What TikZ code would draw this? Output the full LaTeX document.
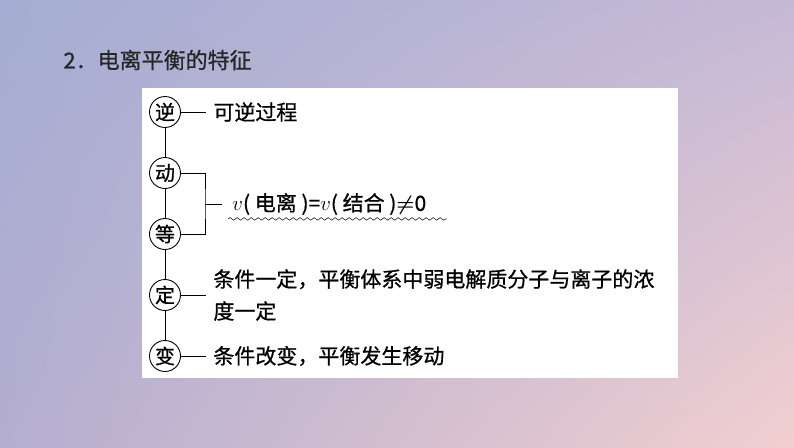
\documentclass[tikz,border=0pt]{standalone}
\usepackage{amsmath}
\usepackage{fontspec}
\newfontfamily\cjk[FakeBold=0.7]{Noto Sans CJK SC}
\usetikzlibrary{positioning,shadings,decorations.pathmorphing}
\definecolor{bgtl}{HTML}{A4ADD3}
\definecolor{bgtr}{HTML}{C6B9D6}
\definecolor{bgbl}{HTML}{B4AED0}
\definecolor{bgbr}{HTML}{F2CFD0}

\begin{document}
\begin{tikzpicture}[x=1pt,y=-1pt,node distance=61pt,line width=0.9pt,
    stage/.style={circle,draw,on grid,inner sep=0pt,minimum size=31pt,
      font=\cjk\fontsize{20}{20}\selectfont},
    note/.style={font=\cjk\fontsize{21}{32}\selectfont,align=left,inner sep=7pt},
    wave/.style={decorate,line width=0.5pt,
      decoration={snake,amplitude=1.3pt,segment length=7pt}}]
    \useasboundingbox (0,0) rectangle (794,447);
    \shade[upper left=bgtl,upper right=bgtr,lower left=bgbl,lower right=bgbr]
      (0,0) rectangle (794,447);
    \fill[white] (142,88) rectangle (678,378);

    \node[anchor=west,inner sep=0pt,text=black!85,
      font=\cjk\fontsize{22}{22}\selectfont] (title) at (63,60) {2．电离平衡的特征};

    % the five stages
    \node[stage] (ni) at (165,112) {逆};
    \node[stage,below=of ni] (dong) {动};
    \node[stage,below=of dong] (deng) {等};
    \node[stage,below=of deng] (ding) {定};
    \node[stage,below=of ding] (bian) {变};

    \node[note,right=25pt of ni] (rev) {可逆过程};
    \coordinate (brk) at (205,204);
    \node[note,anchor=west,inner sep=0pt] (rate) at (232,204)
      {$v$( 电离 )=$v$( 结合 )$\boldsymbol{\neq}$0};
    \node[note,right=25pt of ding] (fix)
      {条件一定，平衡体系中弱电解质分子与离子的浓\\度一定};
    \node[note,right=25pt of bian] (move) {条件改变，平衡发生移动};

    \draw (ni) -- (dong) -- (deng) -- (ding) -- (bian);
    \draw (ni) -- (rev);
    \draw (dong) -| (brk) |- (deng);
    \draw (brk) -- ([xshift=-10pt]rate.west);
    \draw[wave] ([shift={(-4pt,-3.5pt)}]rate.south west)
      -- ([shift={(20pt,-3.5pt)}]rate.south east);
    \draw (ding) -- (fix);
    \draw (bian) -- (move);
\end{tikzpicture}
\end{document}
